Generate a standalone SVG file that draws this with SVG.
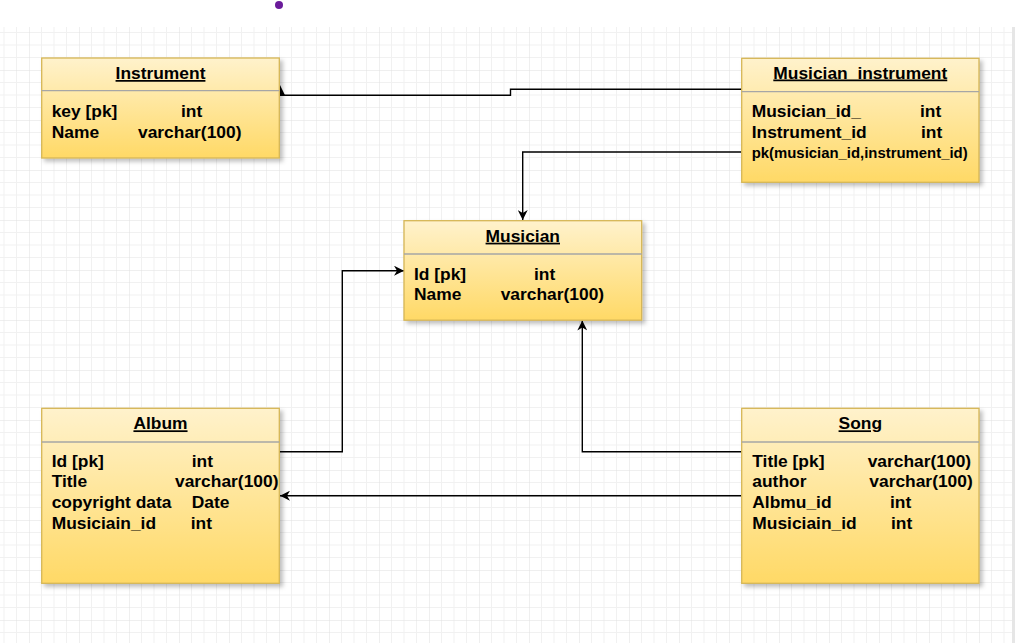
<svg xmlns="http://www.w3.org/2000/svg" width="1020" height="643" viewBox="0 0 1020 643">
  <style>
    .box { fill: url(#yel); stroke: #d6b656; stroke-width: 1.3; filter: url(#sh); }
    .div { stroke: #a6a6a6; stroke-width: 1.3; }
    .t { font-family: "Liberation Sans", Arial, sans-serif; font-weight: bold; font-size: 17.4px; fill: #000; }
    .title { text-anchor: middle; text-decoration: underline; }
    .small { font-size: 14.9px; }
    .conn { fill: none; stroke: #000; stroke-width: 1.4; }
  </style>
  <defs>
    <linearGradient id="yel" x1="0" y1="0" x2="0" y2="1">
      <stop offset="0" stop-color="#fff2cc"/>
      <stop offset="1" stop-color="#ffd966"/>
    </linearGradient>
    <filter id="sh" x="-10%" y="-10%" width="130%" height="130%">
      <feDropShadow dx="3" dy="3" stdDeviation="2" flood-color="#000" flood-opacity="0.25"/>
    </filter>
    <pattern id="grid" patternUnits="userSpaceOnUse" x="29" y="20" width="50" height="50">
      <path d="M12.5 0V50M25 0V50M37.5 0V50M0 12.5H50M0 25H50M0 37.5H50" stroke="#f1f1f1" stroke-width="1" fill="none"/>
      <path d="M0 0V50M0 0H50" stroke="#e0e0e0" stroke-width="1" fill="none"/>
    </pattern>
    <marker id="arr" viewBox="0 0 10 10" refX="10" refY="5" markerWidth="10" markerHeight="10" markerUnits="userSpaceOnUse" orient="auto">
      <path d="M0 0L10 5L0 10L3 5Z" fill="#000"/>
    </marker>
  </defs>

  <rect x="0" y="0" width="1020" height="643" fill="#fff"/>
  <rect x="0" y="27" width="1012" height="616" fill="url(#grid)"/>
  <rect x="1012" y="27" width="3" height="616" fill="#e6e6e6"/>
  <circle cx="279" cy="5" r="4" fill="#6a1b9a"/>

  <g id="connectors">
    <path class="conn" d="M741.7 89.3H510.5V95.3H280"/>
    <polygon points="280,85 285,95.3 280,95.3" fill="#000"/>
    <path class="conn" d="M741.7 152H522.7V220" marker-end="url(#arr)"/>
    <path class="conn" d="M279.3 451.7H342.3V270.7H404" marker-end="url(#arr)"/>
    <path class="conn" d="M741.7 451.7H582.3V320.5" marker-end="url(#arr)"/>
    <path class="conn" d="M741.7 495.7H280" marker-end="url(#arr)"/>
  </g>

  <g id="instrument">
    <rect class="box" x="41.7" y="58" width="237.6" height="100"/>
    <line class="div" x1="41.7" y1="90.7" x2="279.3" y2="90.7"/>
    <text class="t title" x="160.5" y="79">Instrument</text>
    <text class="t" x="51.7" y="117">key [pk]</text>
    <text class="t" x="181" y="117">int</text>
    <text class="t" x="51.7" y="138">Name</text>
    <text class="t" x="138" y="138">varchar(100)</text>
  </g>

  <g id="musician_instrument">
    <rect class="box" x="741.7" y="58.3" width="237.3" height="124"/>
    <line class="div" x1="741.7" y1="91.7" x2="979" y2="91.7"/>
    <text class="t title" x="860.3" y="78.5">Musician_instrument</text>
    <text class="t" x="751.7" y="117">Musician_id_</text>
    <text class="t" x="920" y="117">int</text>
    <text class="t" x="751.7" y="137.5">Instrument_id</text>
    <text class="t" x="921" y="137.5">int</text>
    <text class="t small" x="751.7" y="157.5">pk(musician_id,instrument_id)</text>
  </g>

  <g id="musician">
    <rect class="box" x="404" y="220.7" width="237.7" height="99.5"/>
    <line class="div" x1="404" y1="254" x2="641.7" y2="254"/>
    <text class="t title" x="522.8" y="241.7">Musician</text>
    <text class="t" x="414" y="279.5">Id [pk]</text>
    <text class="t" x="534" y="279.5">int</text>
    <text class="t" x="414" y="300">Name</text>
    <text class="t" x="500.7" y="300">varchar(100)</text>
  </g>

  <g id="album">
    <rect class="box" x="41.7" y="408.3" width="237.6" height="175"/>
    <line class="div" x1="41.7" y1="442" x2="279.3" y2="442"/>
    <text class="t title" x="160.5" y="429.3">Album</text>
    <text class="t" x="51.7" y="466.7">Id [pk]</text>
    <text class="t" x="191.7" y="466.7">int</text>
    <text class="t" x="51.7" y="487.3">Title</text>
    <text class="t" x="175" y="487.3">varchar(100)</text>
    <text class="t" x="51.7" y="508.3">copyright data</text>
    <text class="t" x="191.7" y="508.3">Date</text>
    <text class="t" x="51.7" y="529.3">Musiciain_id</text>
    <text class="t" x="190.7" y="529.3">int</text>
  </g>

  <g id="song">
    <rect class="box" x="741.7" y="408.3" width="237.3" height="175"/>
    <line class="div" x1="741.7" y1="442" x2="979" y2="442"/>
    <text class="t title" x="860.3" y="429.3">Song</text>
    <text class="t" x="752.3" y="466.7">Title [pk]</text>
    <text class="t" x="867.7" y="466.7">varchar(100)</text>
    <text class="t" x="752.3" y="487.3">author</text>
    <text class="t" x="869.3" y="487.3">varchar(100)</text>
    <text class="t" x="752.3" y="508.3">Albmu_id</text>
    <text class="t" x="890" y="508.3">int</text>
    <text class="t" x="752.3" y="529.3">Musiciain_id</text>
    <text class="t" x="891" y="529.3">int</text>
  </g>
</svg>
